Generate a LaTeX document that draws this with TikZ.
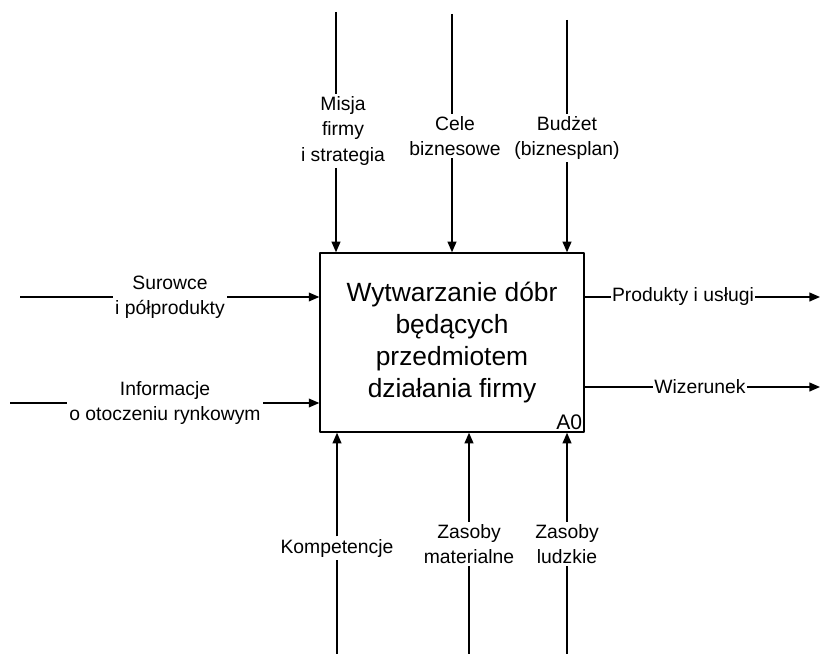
\documentclass[tikz,border=0pt]{standalone}
\usepackage{fontspec}
\setmainfont{Liberation Sans}
\usetikzlibrary{arrows.meta}
\tikzset{
  flow/.style={line width=1.2pt},
  flowin/.style={flow,-{Triangle[length=9pt,width=7.5pt]}},
  lbl/.style={align=center,inner sep=2pt,font=\fontsize{16.5}{21.5}\selectfont},
  func/.style={draw,line width=1.2pt,minimum width=7.92cm,minimum height=5.37cm,
    align=center,font=\fontsize{22.5}{27.5}\selectfont}
}
\begin{document}
\begin{tikzpicture}[x=0.03cm,y=-0.03cm,line join=round]
  \useasboundingbox (0,0) rectangle (820,654);
  % activity box
  \node[func] (box) at (452,342.5) {Wytwarzanie dóbr\\będących\\przedmiotem\\działania firmy};
  \node[anchor=south east,inner sep=2pt,font=\fontsize{18}{20}\selectfont] (nr) at (box.south east) {A0};
  % controls
  \coordinate (m0) at (336,12);
  \coordinate (c0) at (452,14);
  \coordinate (b0) at (567,20);
  \node[lbl] (misja) at (343,131) {Misja\\firmy\\i strategia};
  \node[lbl] (cele) at (455,136) {Cele\\biznesowe};
  \node[lbl] (budzet) at (567,138) {Budżet\\(biznesplan)};
  \draw[flow] (m0) -- (m0 |- misja.north);
  \draw[flowin] (m0 |- misja.south) -- (m0 |- box.north);
  \draw[flow] (c0) -- (c0 |- cele.north);
  \draw[flowin] (c0 |- cele.south) -- (c0 |- box.north);
  \draw[flow] (b0) -- (b0 |- budzet.north);
  \draw[flowin] (b0 |- budzet.south) -- (b0 |- box.north);
  % inputs
  \coordinate (s0) at (20,297);
  \coordinate (i0) at (10,403);
  \node[lbl] (surowce) at (170,297) {Surowce\\i półprodukty};
  \node[lbl] (info) at (165,403) {Informacje\\o otoczeniu rynkowym};
  \draw[flow] (s0) -- (s0 -| surowce.west);
  \draw[flowin] (s0 -| surowce.east) -- (s0 -| box.west);
  \draw[flow] (i0) -- (i0 -| info.west);
  \draw[flowin] (i0 -| info.east) -- (i0 -| box.west);
  % outputs
  \coordinate (p1) at (820,297);
  \coordinate (w1) at (820,387);
  \node[lbl,inner sep=1pt] (produkty) at (683,297) {Produkty i usługi};
  \node[lbl,inner sep=1pt] (wizerunek) at (700,387) {Wizerunek};
  \draw[flow] (box.east |- p1) -- (produkty);
  \draw[flowin] (produkty) -- (p1);
  \draw[flow] (box.east |- w1) -- (wizerunek);
  \draw[flowin] (wizerunek) -- (w1);
  % mechanisms
  \coordinate (k0) at (337,654);
  \coordinate (z0) at (469,654);
  \coordinate (l0) at (567,654);
  \node[lbl] (komp) at (337,548) {Kompetencje};
  \node[lbl] (zmat) at (469,544) {Zasoby\\materialne};
  \node[lbl] (zlud) at (567,544) {Zasoby\\ludzkie};
  \draw[flow] (k0) -- (k0 |- komp.south);
  \draw[flowin] (k0 |- komp.north) -- (k0 |- box.south);
  \draw[flow] (z0) -- (z0 |- zmat.south);
  \draw[flowin] (z0 |- zmat.north) -- (z0 |- box.south);
  \draw[flow] (l0) -- (l0 |- zlud.south);
  \draw[flowin] (l0 |- zlud.north) -- (l0 |- box.south);
\end{tikzpicture}
\end{document}
